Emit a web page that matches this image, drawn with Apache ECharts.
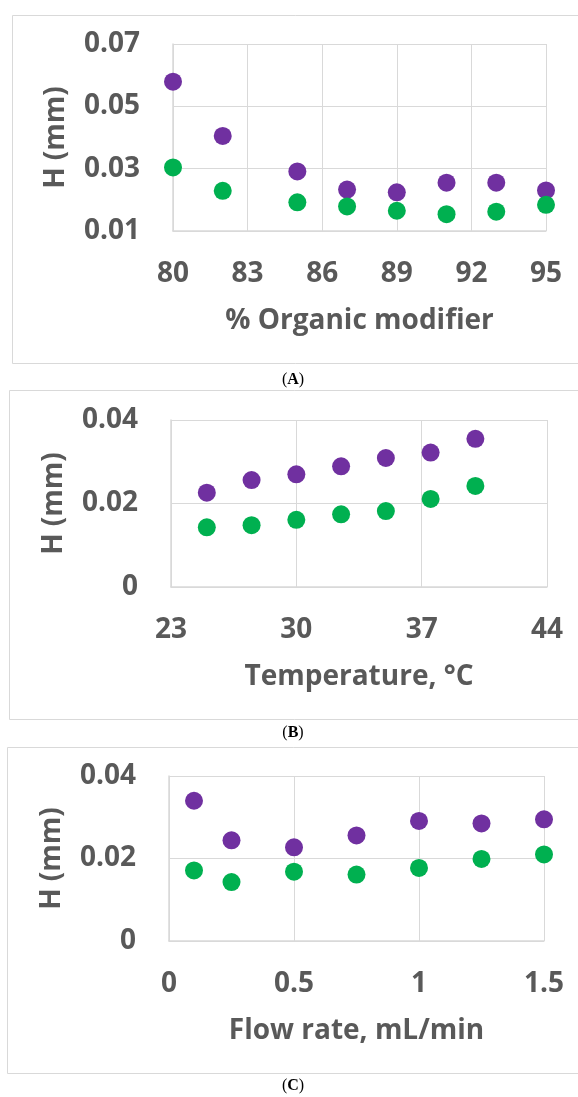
<!DOCTYPE html>
<html>
<head>
<meta charset="utf-8">
<script src="https://cdn.jsdelivr.net/npm/echarts@6/dist/echarts.min.js"></script>
<style>
  html, body { margin: 0; padding: 0; background: #fff; }
  #chart { width: 578px; height: 1097px; }
</style>
</head>
<body>
<div id="chart"></div>
<script>
// panel A: % organic modifier
var organicPct = [80, 82, 85, 87, 89, 91, 93, 95];
var organicPurple = [0.0579, 0.0405, 0.0291, 0.0233, 0.0224, 0.0255, 0.0255, 0.0230];
var organicGreen = [0.0304, 0.0229, 0.0192, 0.0179, 0.0165, 0.0154, 0.0162, 0.0184];

// panel B: temperature
var tempC = [25, 27.5, 30, 32.5, 35, 37.5, 40];
var tempPurple = [0.0226, 0.0256, 0.0270, 0.0289, 0.0309, 0.0322, 0.0355];
var tempGreen = [0.0143, 0.0148, 0.0161, 0.0174, 0.0182, 0.0211, 0.0242];

// panel C: flow rate
var flowRate = [0.1, 0.25, 0.5, 0.75, 1.0, 1.25, 1.5];
var flowPurple = [0.0340, 0.0244, 0.0227, 0.0256, 0.0291, 0.0285, 0.0295];
var flowGreen = [0.0171, 0.0143, 0.0168, 0.0161, 0.0177, 0.0199, 0.0210];

var xTitles = ['% Organic modifier', 'Temperature, \u00b0C', 'Flow rate, mL/min'];
var yTitle = 'H (mm)';
var panelTags = ['A', 'B', 'C'];

var PURPLE = '#7030A0';
var GREEN = '#00B050';
var GRID_GRAY = '#D9D9D9';
var TEXT_GRAY = '#595959';
var FONT = '"Open Sans", "Liberation Sans", sans-serif';

function pairs(xs, ys) {
  return xs.map(function (x, i) { return [x, ys[i]]; });
}

var labelStyle = {
  color: TEXT_GRAY,
  fontFamily: FONT,
  fontWeight: 'bold',
  fontSize: 28
};

function xAxisFor(idx, min, max, interval) {
  return {
    type: 'value', gridIndex: idx, min: min, max: max, interval: interval,
    name: xTitles[idx], nameLocation: 'middle', nameGap: 76,
    nameTextStyle: labelStyle,
    axisLine: { show: true, lineStyle: { color: GRID_GRAY, width: 1.5 } },
    axisTick: { show: false },
    axisLabel: Object.assign({ margin: 29 }, labelStyle),
    splitLine: { show: true, lineStyle: { color: GRID_GRAY, width: 1 } }
  };
}

function yAxisFor(idx, min, max, interval) {
  return {
    type: 'value', gridIndex: idx, min: min, max: max, interval: interval,
    name: yTitle, nameLocation: 'middle', nameGap: 103, nameRotate: 90,
    nameTextStyle: labelStyle,
    axisLine: { show: true, lineStyle: { color: GRID_GRAY, width: 1.5 } },
    axisTick: { show: false },
    axisLabel: Object.assign({ margin: 33 }, labelStyle),
    splitLine: { show: true, lineStyle: { color: GRID_GRAY, width: 1 } }
  };
}

function dots(idx, name, color, data) {
  return {
    type: 'scatter', name: name, xAxisIndex: idx, yAxisIndex: idx,
    symbol: 'circle', symbolSize: 18,
    itemStyle: { color: color, opacity: 1 },
    data: data
  };
}

var frames = [
  { x: 12, y: 15, h: 348 },
  { x: 9, y: 390, h: 329 },
  { x: 7, y: 747, h: 326 }
];
var tagY = [380, 733, 1086];

var graphics = [];
frames.forEach(function (f) {
  graphics.push({
    type: 'rect', silent: true, z: -1,
    shape: { x: f.x + 0.5, y: f.y + 0.5, width: 600, height: f.h },
    style: { fill: null, stroke: GRID_GRAY, lineWidth: 1 }
  });
});
panelTags.forEach(function (t, i) {
  graphics.push({
    type: 'text', silent: true,
    x: 293, y: tagY[i],
    style: {
      text: '{p|(}{b|' + t + '}{p|)}',
      align: 'center', verticalAlign: 'middle',
      rich: {
        p: { fontFamily: '"Liberation Serif", serif', fontSize: 16, fill: '#000' },
        b: { fontFamily: '"Liberation Serif", serif', fontSize: 16, fontWeight: 'bold', fill: '#000' }
      }
    }
  });
});

var chart = echarts.init(document.getElementById('chart'), null, { renderer: 'canvas' });
chart.setOption({
  backgroundColor: '#fff',
  animation: false,
  grid: [
    { left: 173, top: 44, width: 373, height: 187 },
    { left: 171, top: 420, width: 376, height: 167 },
    { left: 169, top: 776, width: 375, height: 165 }
  ],
  xAxis: [
    xAxisFor(0, 80, 95, 3),
    xAxisFor(1, 23, 44, 7),
    xAxisFor(2, 0, 1.5, 0.5)
  ],
  yAxis: [
    yAxisFor(0, 0.01, 0.07, 0.02),
    yAxisFor(1, 0, 0.04, 0.02),
    yAxisFor(2, 0, 0.04, 0.02)
  ],
  series: [
    dots(0, 'Series 1', PURPLE, pairs(organicPct, organicPurple)),
    dots(0, 'Series 2', GREEN, pairs(organicPct, organicGreen)),
    dots(1, 'Series 1', PURPLE, pairs(tempC, tempPurple)),
    dots(1, 'Series 2', GREEN, pairs(tempC, tempGreen)),
    dots(2, 'Series 1', PURPLE, pairs(flowRate, flowPurple)),
    dots(2, 'Series 2', GREEN, pairs(flowRate, flowGreen))
  ],
  graphic: graphics
});
</script>
</body>
</html>
